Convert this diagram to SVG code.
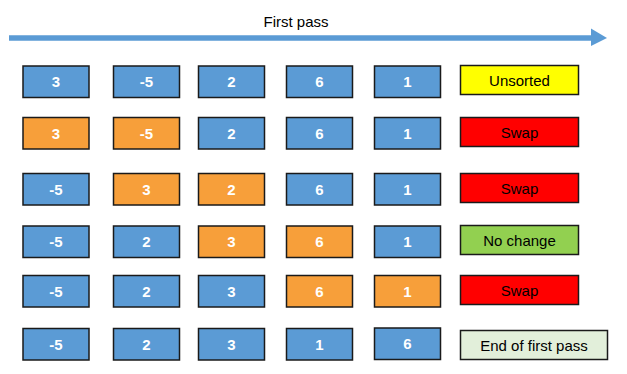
<svg xmlns="http://www.w3.org/2000/svg" width="627" height="374" viewBox="0 0 627 374">
<style>
.b{stroke:#1a1a1a;stroke-width:1.5}
.blue{fill:#5B9BD5}
.orange{fill:#F79F3A}
.n{font-family:"Liberation Sans",Arial,sans-serif;font-size:15px;font-weight:bold;fill:#fff;text-anchor:middle}
.l{font-family:"Liberation Sans",Arial,sans-serif;font-size:15px;fill:#000;text-anchor:middle}
</style>
<rect width="627" height="374" fill="#fff"/>
<g id="connectors">
<line x1="9" y1="38" x2="592" y2="38" stroke="#5B9BD5" stroke-width="5.5"/>
<polygon points="591,28.5 607,38 591,46" fill="#5B9BD5"/>
</g>
<text class="l" x="296" y="27">First pass</text>
<g id="row1">
<rect class="b blue" x="23" y="66" width="66" height="31.5"/><text class="n" x="56" y="87">3</text>
<rect class="b blue" x="113.5" y="66" width="66" height="31.5"/><text class="n" x="146.5" y="87">-5</text>
<rect class="b blue" x="198.5" y="66" width="66" height="31.5"/><text class="n" x="231.5" y="87">2</text>
<rect class="b blue" x="286.5" y="66" width="66" height="31.5"/><text class="n" x="319.5" y="87">6</text>
<rect class="b blue" x="374.5" y="66" width="66" height="31.5"/><text class="n" x="407.5" y="87">1</text>
<rect class="b" fill="#FFFF00" x="460.5" y="65.5" width="118" height="29"/><text class="l" x="519.5" y="85.5">Unsorted</text>
</g>
<g id="row2">
<rect class="b orange" x="23" y="117.5" width="66" height="31.5"/><text class="n" x="56" y="138.5">3</text>
<rect class="b orange" x="113.5" y="117.5" width="66" height="31.5"/><text class="n" x="146.5" y="138.5">-5</text>
<rect class="b blue" x="198.5" y="117.5" width="66" height="31.5"/><text class="n" x="231.5" y="138.5">2</text>
<rect class="b blue" x="286.5" y="117.5" width="66" height="31.5"/><text class="n" x="319.5" y="138.5">6</text>
<rect class="b blue" x="374.5" y="117.5" width="66" height="31.5"/><text class="n" x="407.5" y="138.5">1</text>
<rect class="b" fill="#FF0000" x="460.5" y="117.5" width="118" height="29"/><text class="l" x="519.5" y="137.5">Swap</text>
</g>
<g id="row3">
<rect class="b blue" x="23" y="173.5" width="66" height="31.5"/><text class="n" x="56" y="194.5">-5</text>
<rect class="b orange" x="113.5" y="173.5" width="66" height="31.5"/><text class="n" x="146.5" y="194.5">3</text>
<rect class="b orange" x="198.5" y="173.5" width="66" height="31.5"/><text class="n" x="231.5" y="194.5">2</text>
<rect class="b blue" x="286.5" y="173.5" width="66" height="31.5"/><text class="n" x="319.5" y="194.5">6</text>
<rect class="b blue" x="374.5" y="173.5" width="66" height="31.5"/><text class="n" x="407.5" y="194.5">1</text>
<rect class="b" fill="#FF0000" x="460.5" y="173.5" width="118" height="29"/><text class="l" x="519.5" y="193.5">Swap</text>
</g>
<g id="row4">
<rect class="b blue" x="23" y="226" width="66" height="31.5"/><text class="n" x="56" y="247">-5</text>
<rect class="b blue" x="113.5" y="226" width="66" height="31.5"/><text class="n" x="146.5" y="247">2</text>
<rect class="b orange" x="198.5" y="226" width="66" height="31.5"/><text class="n" x="231.5" y="247">3</text>
<rect class="b orange" x="286.5" y="226" width="66" height="31.5"/><text class="n" x="319.5" y="247">6</text>
<rect class="b blue" x="374.5" y="226" width="66" height="31.5"/><text class="n" x="407.5" y="247">1</text>
<rect class="b" fill="#92D050" x="460.5" y="225.5" width="118" height="29"/><text class="l" x="519.5" y="245.5">No change</text>
</g>
<g id="row5">
<rect class="b blue" x="23" y="275.5" width="66" height="31.5"/><text class="n" x="56" y="296.5">-5</text>
<rect class="b blue" x="113.5" y="275.5" width="66" height="31.5"/><text class="n" x="146.5" y="296.5">2</text>
<rect class="b blue" x="198.5" y="275.5" width="66" height="31.5"/><text class="n" x="231.5" y="296.5">3</text>
<rect class="b orange" x="286.5" y="275.5" width="66" height="31.5"/><text class="n" x="319.5" y="296.5">6</text>
<rect class="b orange" x="374.5" y="275.5" width="66" height="31.5"/><text class="n" x="407.5" y="296.5">1</text>
<rect class="b" fill="#FF0000" x="460.5" y="275.5" width="118" height="29"/><text class="l" x="519.5" y="295.5">Swap</text>
</g>
<g id="row6">
<rect class="b blue" x="23" y="328.5" width="66" height="31.5"/><text class="n" x="56" y="349.5">-5</text>
<rect class="b blue" x="113.5" y="328.5" width="66" height="31.5"/><text class="n" x="146.5" y="349.5">2</text>
<rect class="b blue" x="198.5" y="328.5" width="66" height="31.5"/><text class="n" x="231.5" y="349.5">3</text>
<rect class="b blue" x="286.5" y="328.5" width="66" height="31.5"/><text class="n" x="319.5" y="349.5">1</text>
<rect class="b blue" x="374.5" y="328" width="66" height="31.5"/><text class="n" x="407.5" y="349">6</text>
<rect class="b" fill="#E2EFDA" x="460.5" y="330.5" width="147" height="29"/><text class="l" x="534" y="350.5">End of first pass</text>
</g>
</svg>
